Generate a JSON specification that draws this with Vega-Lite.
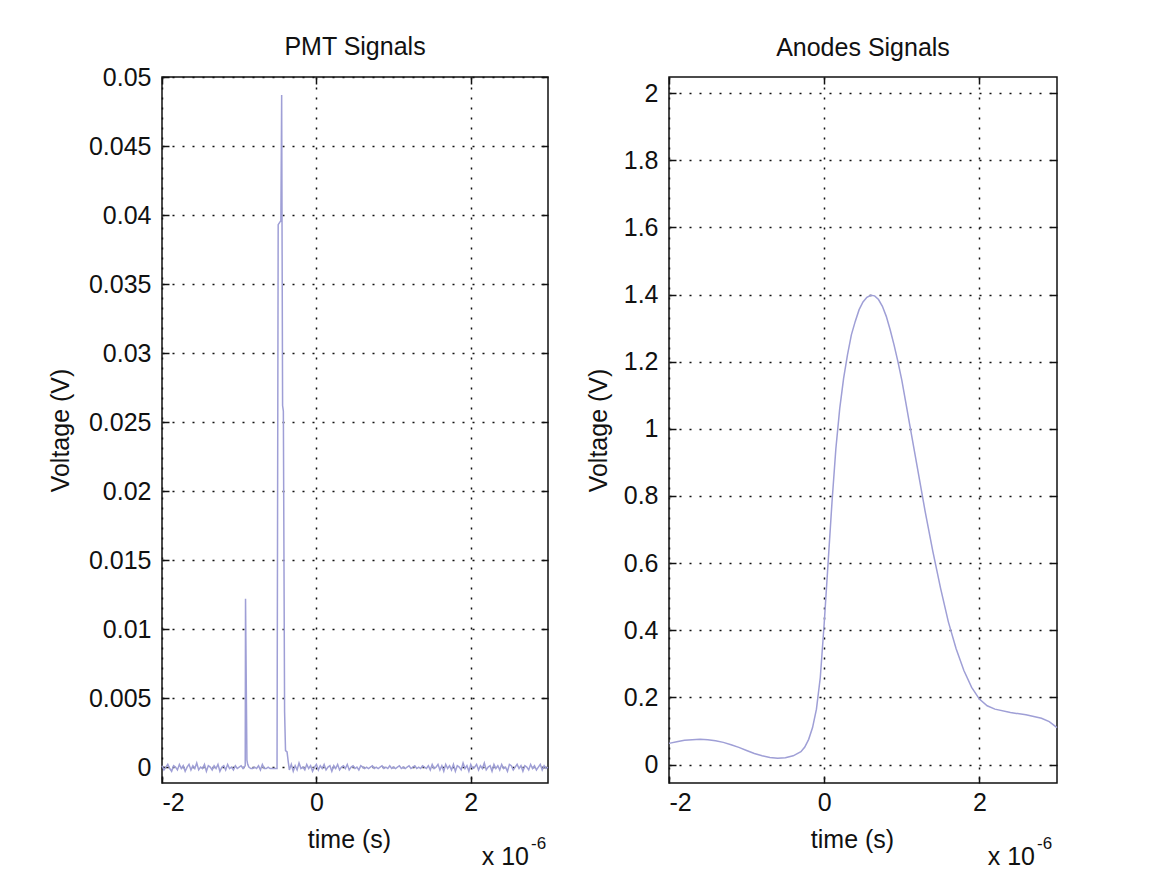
{
  "$schema": "https://vega.github.io/schema/vega-lite/v6.json",
  "background": "white",
  "padding": {"left": 47, "top": 34, "right": 0, "bottom": 0},
  "datasets": {
    "pmt": [
      {"t": -2.000, "v": 0.0001}, {"t": -1.975, "v": -0.0002}, {"t": -1.950, "v": 0.0000}, {"t": -1.925, "v": 0.0002},
      {"t": -1.900, "v": -0.0001}, {"t": -1.875, "v": -0.0003}, {"t": -1.850, "v": 0.0001}, {"t": -1.825, "v": 0.0000},
      {"t": -1.800, "v": -0.0002}, {"t": -1.775, "v": 0.0002}, {"t": -1.750, "v": -0.0001}, {"t": -1.725, "v": 0.0001},
      {"t": -1.700, "v": -0.0003}, {"t": -1.675, "v": 0.0000}, {"t": -1.650, "v": 0.0002}, {"t": -1.625, "v": -0.0002},
      {"t": -1.600, "v": 0.0001}, {"t": -1.575, "v": -0.0001}, {"t": -1.550, "v": 0.0003}, {"t": -1.525, "v": -0.0002},
      {"t": -1.500, "v": 0.0000}, {"t": -1.475, "v": -0.0001}, {"t": -1.450, "v": 0.0002}, {"t": -1.425, "v": -0.0003},
      {"t": -1.400, "v": 0.0001}, {"t": -1.375, "v": 0.0000}, {"t": -1.350, "v": -0.0002}, {"t": -1.325, "v": 0.0001},
      {"t": -1.300, "v": -0.0001}, {"t": -1.275, "v": 0.0002}, {"t": -1.250, "v": -0.0003}, {"t": -1.225, "v": 0.0000},
      {"t": -1.200, "v": 0.0001}, {"t": -1.175, "v": -0.0002}, {"t": -1.150, "v": 0.0002}, {"t": -1.125, "v": -0.0001},
      {"t": -1.100, "v": 0.0000}, {"t": -1.075, "v": -0.0002}, {"t": -1.050, "v": 0.0001}, {"t": -1.025, "v": -0.0001},
      {"t": -1.000, "v": 0.0000}, {"t": -0.975, "v": 0.0001}, {"t": -0.950, "v": -0.0001}, {"t": -0.935, "v": 0.0000},
      {"t": -0.922, "v": 0.0001}, {"t": -0.918, "v": 0.0122}, {"t": -0.900, "v": 0.0005}, {"t": -0.890, "v": 0.0002},
      {"t": -0.875, "v": 0.0000}, {"t": -0.850, "v": -0.0001}, {"t": -0.825, "v": -0.0001}, {"t": -0.800, "v": 0.0000},
      {"t": -0.775, "v": -0.0001}, {"t": -0.750, "v": 0.0001}, {"t": -0.725, "v": -0.0002}, {"t": -0.700, "v": 0.0002},
      {"t": -0.675, "v": -0.0001}, {"t": -0.650, "v": -0.0001}, {"t": -0.625, "v": 0.0000}, {"t": -0.600, "v": -0.0001},
      {"t": -0.575, "v": -0.0001}, {"t": -0.550, "v": -0.0001}, {"t": -0.525, "v": -0.0001}, {"t": -0.510, "v": -0.0001},
      {"t": -0.495, "v": 0.0393}, {"t": -0.460, "v": 0.0396}, {"t": -0.450, "v": 0.0487}, {"t": -0.438, "v": 0.0262},
      {"t": -0.428, "v": 0.0258}, {"t": -0.412, "v": 0.0040}, {"t": -0.400, "v": 0.0012}, {"t": -0.380, "v": 0.0011},
      {"t": -0.365, "v": 0.0004}, {"t": -0.350, "v": -0.0002}, {"t": -0.325, "v": 0.0002}, {"t": -0.300, "v": -0.0003},
      {"t": -0.275, "v": 0.0001}, {"t": -0.250, "v": -0.0002}, {"t": -0.225, "v": 0.0003}, {"t": -0.200, "v": -0.0001},
      {"t": -0.175, "v": 0.0000}, {"t": -0.150, "v": -0.0002}, {"t": -0.125, "v": 0.0002}, {"t": -0.100, "v": -0.0001},
      {"t": -0.075, "v": 0.0001}, {"t": -0.050, "v": -0.0003}, {"t": -0.025, "v": 0.0000}, {"t": 0.000, "v": 0.0002},
      {"t": 0.025, "v": -0.0002}, {"t": 0.050, "v": 0.0001}, {"t": 0.075, "v": -0.0001}, {"t": 0.100, "v": 0.0002},
      {"t": 0.125, "v": -0.0002}, {"t": 0.150, "v": 0.0000}, {"t": 0.175, "v": 0.0001}, {"t": 0.200, "v": -0.0003},
      {"t": 0.225, "v": 0.0001}, {"t": 0.250, "v": -0.0001}, {"t": 0.275, "v": 0.0002}, {"t": 0.300, "v": -0.0002},
      {"t": 0.325, "v": 0.0000}, {"t": 0.350, "v": 0.0001}, {"t": 0.375, "v": -0.0001}, {"t": 0.400, "v": 0.0002},
      {"t": 0.425, "v": -0.0002}, {"t": 0.450, "v": 0.0000}, {"t": 0.475, "v": 0.0001}, {"t": 0.500, "v": -0.0001},
      {"t": 0.525, "v": 0.0000}, {"t": 0.550, "v": -0.0002}, {"t": 0.575, "v": 0.0001}, {"t": 0.600, "v": 0.0000},
      {"t": 0.625, "v": -0.0001}, {"t": 0.650, "v": 0.0000}, {"t": 0.675, "v": -0.0001}, {"t": 0.700, "v": 0.0000},
      {"t": 0.725, "v": 0.0001}, {"t": 0.750, "v": -0.0001}, {"t": 0.775, "v": 0.0000}, {"t": 0.800, "v": -0.0001},
      {"t": 0.825, "v": 0.0000}, {"t": 0.850, "v": 0.0001}, {"t": 0.875, "v": -0.0001}, {"t": 0.900, "v": 0.0000},
      {"t": 0.925, "v": -0.0001}, {"t": 0.950, "v": 0.0001}, {"t": 0.975, "v": -0.0001}, {"t": 1.000, "v": 0.0000},
      {"t": 1.025, "v": -0.0001}, {"t": 1.050, "v": 0.0000}, {"t": 1.075, "v": 0.0001}, {"t": 1.100, "v": -0.0001},
      {"t": 1.125, "v": 0.0000}, {"t": 1.150, "v": -0.0001}, {"t": 1.175, "v": 0.0000}, {"t": 1.200, "v": 0.0001},
      {"t": 1.225, "v": -0.0001}, {"t": 1.250, "v": 0.0000}, {"t": 1.275, "v": 0.0001}, {"t": 1.300, "v": -0.0001},
      {"t": 1.325, "v": 0.0000}, {"t": 1.350, "v": -0.0001}, {"t": 1.375, "v": 0.0001}, {"t": 1.400, "v": 0.0000},
      {"t": 1.425, "v": -0.0001}, {"t": 1.450, "v": 0.0001}, {"t": 1.475, "v": -0.0002}, {"t": 1.500, "v": 0.0002},
      {"t": 1.525, "v": -0.0001}, {"t": 1.550, "v": 0.0000}, {"t": 1.575, "v": 0.0002}, {"t": 1.600, "v": -0.0002},
      {"t": 1.625, "v": 0.0001}, {"t": 1.650, "v": -0.0003}, {"t": 1.675, "v": 0.0002}, {"t": 1.700, "v": -0.0001},
      {"t": 1.725, "v": 0.0001}, {"t": 1.750, "v": -0.0002}, {"t": 1.775, "v": 0.0002}, {"t": 1.800, "v": -0.0003},
      {"t": 1.825, "v": 0.0001}, {"t": 1.850, "v": 0.0000}, {"t": 1.875, "v": -0.0002}, {"t": 1.900, "v": 0.0003},
      {"t": 1.925, "v": -0.0001}, {"t": 1.950, "v": 0.0001}, {"t": 1.975, "v": -0.0003}, {"t": 2.000, "v": 0.0002},
      {"t": 2.025, "v": -0.0001}, {"t": 2.050, "v": 0.0000}, {"t": 2.075, "v": 0.0002}, {"t": 2.100, "v": -0.0002},
      {"t": 2.125, "v": 0.0001}, {"t": 2.150, "v": -0.0001}, {"t": 2.175, "v": 0.0003}, {"t": 2.200, "v": -0.0002},
      {"t": 2.225, "v": 0.0000}, {"t": 2.250, "v": 0.0001}, {"t": 2.275, "v": -0.0003}, {"t": 2.300, "v": 0.0002},
      {"t": 2.325, "v": -0.0001}, {"t": 2.350, "v": 0.0001}, {"t": 2.375, "v": -0.0002}, {"t": 2.400, "v": 0.0002},
      {"t": 2.425, "v": -0.0001}, {"t": 2.450, "v": 0.0000}, {"t": 2.475, "v": -0.0003}, {"t": 2.500, "v": 0.0002},
      {"t": 2.525, "v": 0.0001}, {"t": 2.550, "v": -0.0002}, {"t": 2.575, "v": 0.0000}, {"t": 2.600, "v": 0.0002},
      {"t": 2.625, "v": -0.0001}, {"t": 2.650, "v": 0.0001}, {"t": 2.675, "v": -0.0003}, {"t": 2.700, "v": 0.0001},
      {"t": 2.725, "v": 0.0000}, {"t": 2.750, "v": -0.0002}, {"t": 2.775, "v": 0.0002}, {"t": 2.800, "v": -0.0001},
      {"t": 2.825, "v": 0.0001}, {"t": 2.850, "v": -0.0002}, {"t": 2.875, "v": 0.0000}, {"t": 2.900, "v": 0.0002},
      {"t": 2.925, "v": -0.0002}, {"t": 2.950, "v": 0.0001}, {"t": 2.975, "v": -0.0001}, {"t": 3.000, "v": 0.0000}
    ],
    "anode": [
      {"t": -2.0, "v": 0.063}, {"t": -1.9, "v": 0.068}, {"t": -1.8, "v": 0.072}, {"t": -1.7, "v": 0.074},
      {"t": -1.6, "v": 0.075}, {"t": -1.5, "v": 0.074}, {"t": -1.4, "v": 0.071}, {"t": -1.3, "v": 0.066},
      {"t": -1.2, "v": 0.059}, {"t": -1.1, "v": 0.051}, {"t": -1.0, "v": 0.042}, {"t": -0.9, "v": 0.033},
      {"t": -0.8, "v": 0.026}, {"t": -0.7, "v": 0.021}, {"t": -0.6, "v": 0.019}, {"t": -0.5, "v": 0.020},
      {"t": -0.4, "v": 0.026}, {"t": -0.3, "v": 0.038}, {"t": -0.25, "v": 0.052}, {"t": -0.2, "v": 0.075},
      {"t": -0.15, "v": 0.11}, {"t": -0.1, "v": 0.165}, {"t": -0.05, "v": 0.26}, {"t": 0.0, "v": 0.42},
      {"t": 0.05, "v": 0.6}, {"t": 0.1, "v": 0.78}, {"t": 0.15, "v": 0.94}, {"t": 0.2, "v": 1.06},
      {"t": 0.25, "v": 1.15}, {"t": 0.3, "v": 1.22}, {"t": 0.35, "v": 1.28}, {"t": 0.4, "v": 1.32},
      {"t": 0.45, "v": 1.355}, {"t": 0.5, "v": 1.378}, {"t": 0.55, "v": 1.392}, {"t": 0.6, "v": 1.398},
      {"t": 0.65, "v": 1.396}, {"t": 0.7, "v": 1.385}, {"t": 0.75, "v": 1.365}, {"t": 0.8, "v": 1.335},
      {"t": 0.85, "v": 1.295}, {"t": 0.9, "v": 1.25}, {"t": 0.95, "v": 1.2}, {"t": 1.0, "v": 1.145},
      {"t": 1.05, "v": 1.08}, {"t": 1.1, "v": 1.015}, {"t": 1.15, "v": 0.95}, {"t": 1.2, "v": 0.885},
      {"t": 1.3, "v": 0.755}, {"t": 1.4, "v": 0.635}, {"t": 1.5, "v": 0.525}, {"t": 1.6, "v": 0.425},
      {"t": 1.7, "v": 0.345}, {"t": 1.8, "v": 0.28}, {"t": 1.9, "v": 0.23}, {"t": 2.0, "v": 0.195},
      {"t": 2.1, "v": 0.175}, {"t": 2.2, "v": 0.165}, {"t": 2.4, "v": 0.155}, {"t": 2.6, "v": 0.148},
      {"t": 2.8, "v": 0.138}, {"t": 2.9, "v": 0.128}, {"t": 3.0, "v": 0.11}
    ]
  },
  "config": {
    "font": "Liberation Sans",
    "view": {"stroke": "#111111", "strokeWidth": 1.5},
    "axis": {
      "domain": false,
      "grid": true,
      "gridColor": "#111111",
      "gridDash": [2, 8],
      "gridWidth": 1.5,
      "tickColor": "#111111",
      "tickSize": -7,
      "tickWidth": 1.5,
      "labelFont": "Liberation Sans",
      "labelFontSize": 25,
      "labelColor": "#111111",
      "labelExpr": "'' + datum.value",
      "titleFont": "Liberation Sans",
      "titleFontSize": 25,
      "titleFontWeight": "normal",
      "titleColor": "#111111"
    },
    "title": {"font": "Liberation Sans", "fontSize": 25, "fontWeight": "normal", "color": "#111111", "baseline": "alphabetic", "frame": "group"},
    "concat": {"spacing": 33}
  },
  "hconcat": [
    {
      "title": {"text": "PMT Signals", "offset": 5},
      "width": 386,
      "height": 706,
      "data": {"name": "pmt"},
      "layer": [
        {
          "mark": {"type": "line", "color": "#9f9fd6", "strokeWidth": 1.5},
          "encoding": {
            "x": {"field": "t", "type": "quantitative", "scale": {"domain": [-2, 3], "nice": false, "zero": false},
                  "axis": {"values": [-2, 0, 2], "title": "time (s)", "labelPadding": 14, "minExtent": 35, "maxExtent": 35, "titlePadding": 9, "titleX": 187}},
            "y": {"field": "v", "type": "quantitative", "scale": {"domain": [-0.00115, 0.05], "nice": false, "zero": false},
                  "axis": {"values": [0, 0.005, 0.01, 0.015, 0.02, 0.025, 0.03, 0.035, 0.04, 0.045, 0.05], "title": "Voltage (V)", "labelPadding": 18, "minExtent": 85, "maxExtent": 85, "titlePadding": 4}}
          }
        },
        {
          "mark": {"type": "line", "opacity": 0},
          "encoding": {
            "x": {"field": "t", "type": "quantitative", "axis": {"orient": "top", "values": [-2, 0, 2], "labels": false, "grid": false, "title": null, "minExtent": 0, "maxExtent": 0}},
            "y": {"field": "v", "type": "quantitative", "axis": {"orient": "right", "values": [0, 0.005, 0.01, 0.015, 0.02, 0.025, 0.03, 0.035, 0.04, 0.045, 0.05], "labels": false, "grid": false, "title": null, "minExtent": 0, "maxExtent": 0}}
          }
        },
        {
          "data": {"values": [{"s": "x 10"}]},
          "mark": {"type": "text", "align": "right", "baseline": "alphabetic", "fontSize": 25, "color": "#111111", "dx": -19, "dy": 82},
          "encoding": {
            "x": {"datum": 3, "type": "quantitative", "axis": null},
            "y": {"datum": -0.00115, "type": "quantitative", "axis": null},
            "text": {"field": "s"}
          }
        },
        {
          "data": {"values": [{"s": "-6"}]},
          "mark": {"type": "text", "align": "left", "baseline": "alphabetic", "fontSize": 17, "color": "#111111", "dx": -17, "dy": 66},
          "encoding": {
            "x": {"datum": 3, "type": "quantitative", "axis": null},
            "y": {"datum": -0.00115, "type": "quantitative", "axis": null},
            "text": {"field": "s"}
          }
        }
      ],
      "resolve": {"axis": {"x": "independent", "y": "independent"}}
    },
    {
      "title": {"text": "Anodes Signals", "offset": 15},
      "width": 388,
      "height": 706,
      "data": {"name": "anode"},
      "layer": [
        {
          "mark": {"type": "line", "color": "#9f9fd6", "strokeWidth": 1.5},
          "encoding": {
            "x": {"field": "t", "type": "quantitative", "scale": {"domain": [-2, 3], "nice": false, "zero": false},
                  "axis": {"values": [-2, 0, 2], "title": "time (s)", "labelPadding": 14, "minExtent": 35, "maxExtent": 35, "titlePadding": 9, "titleX": 183}},
            "y": {"field": "v", "type": "quantitative", "scale": {"domain": [-0.055, 2.048], "nice": false, "zero": false},
                  "axis": {"values": [0, 0.2, 0.4, 0.6, 0.8, 1, 1.2, 1.4, 1.6, 1.8, 2], "title": "Voltage (V)", "labelPadding": 18, "minExtent": 50, "maxExtent": 50, "titlePadding": 8}}
          }
        },
        {
          "mark": {"type": "line", "opacity": 0},
          "encoding": {
            "x": {"field": "t", "type": "quantitative", "axis": {"orient": "top", "values": [-2, 0, 2], "labels": false, "grid": false, "title": null, "minExtent": 0, "maxExtent": 0}},
            "y": {"field": "v", "type": "quantitative", "axis": {"orient": "right", "values": [0, 0.2, 0.4, 0.6, 0.8, 1, 1.2, 1.4, 1.6, 1.8, 2], "labels": false, "grid": false, "title": null, "minExtent": 0, "maxExtent": 0}}
          }
        },
        {
          "data": {"values": [{"s": "x 10"}]},
          "mark": {"type": "text", "align": "right", "baseline": "alphabetic", "fontSize": 25, "color": "#111111", "dx": -22, "dy": 82},
          "encoding": {
            "x": {"datum": 3, "type": "quantitative", "axis": null},
            "y": {"datum": -0.055, "type": "quantitative", "axis": null},
            "text": {"field": "s"}
          }
        },
        {
          "data": {"values": [{"s": "-6"}]},
          "mark": {"type": "text", "align": "left", "baseline": "alphabetic", "fontSize": 17, "color": "#111111", "dx": -20, "dy": 66},
          "encoding": {
            "x": {"datum": 3, "type": "quantitative", "axis": null},
            "y": {"datum": -0.055, "type": "quantitative", "axis": null},
            "text": {"field": "s"}
          }
        }
      ],
      "resolve": {"axis": {"x": "independent", "y": "independent"}}
    }
  ]
}
